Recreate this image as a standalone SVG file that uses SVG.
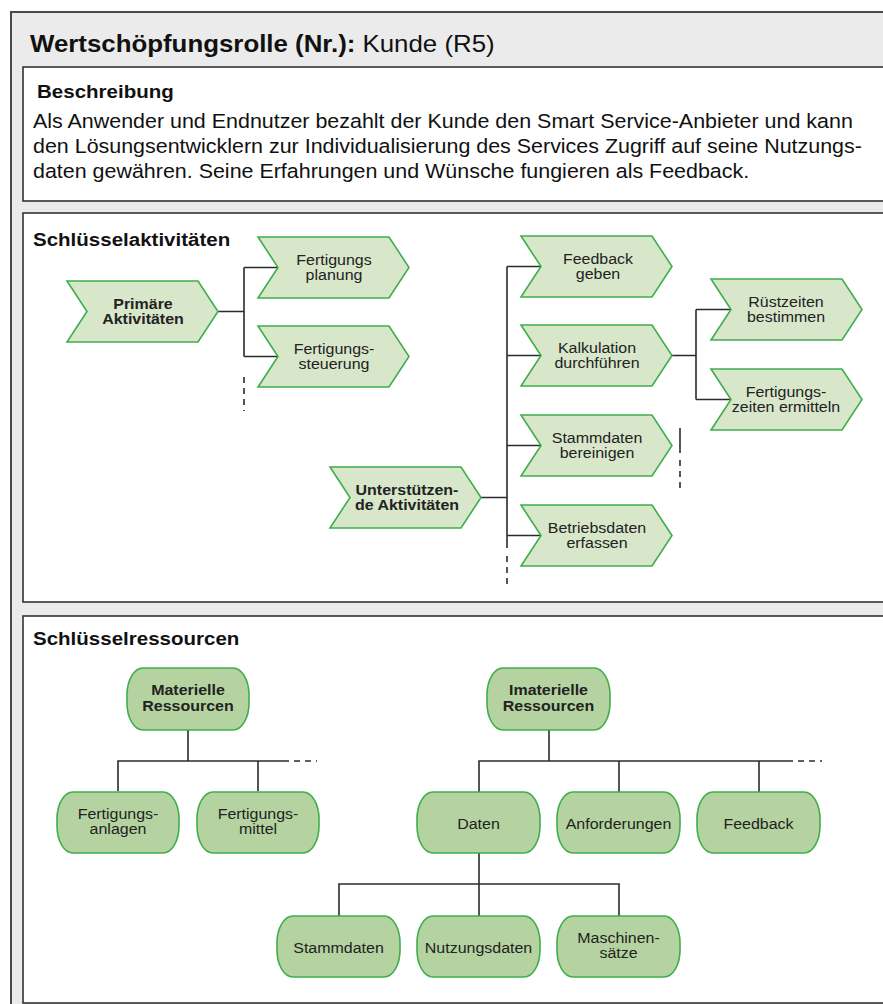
<svg xmlns="http://www.w3.org/2000/svg" xmlns:xlink="http://www.w3.org/1999/xlink" width="883" height="1004" viewBox="0 0 883 1004">
  <style>
    .frame { fill: #ebebeb; stroke: #4a4a4a; stroke-width: 2; }
    .panel { fill: #ffffff; stroke: #333333; stroke-width: 1.6; }
    .chev { fill: #d8e6ca; stroke: #3fae4c; stroke-width: 1.6; stroke-linejoin: miter; }
    .res { fill: #b5d3a0; stroke: #3fae4c; stroke-width: 1.6; }
    .wire { fill: none; stroke: #2b2b2b; stroke-width: 1.6; }
    .dash { fill: none; stroke: #2b2b2b; stroke-width: 1.6; stroke-dasharray: 6 5; }
    text { font-family: "Liberation Sans", Arial, Helvetica, sans-serif; }
    .title { font-size: 23.5px; fill: #111; }
    .head { font-size: 19px; font-weight: bold; fill: #111; }
    .body { font-size: 19.5px; fill: #111; }
    .lbl { font-size: 15px; fill: #222; text-anchor: middle; }
    .bold { font-weight: bold; }
  </style>
  <defs>
    <!-- activity chevron: notch on the left, point on the right -->
    <polygon id="chevron" points="0,0 131,0 151,30.5 131,61 0,61 20,30.5"/>
  </defs>

  <!-- outer card -->
  <rect class="frame" x="11" y="12" width="890" height="1010"/>

  <!-- heading -->
  <text class="title" transform="translate(30 52) scale(1.1 1)"><tspan font-weight="bold">Wertschöpfungsrolle (Nr.):</tspan> Kunde (R5)</text>

  <!-- description panel -->
  <g id="beschreibung">
    <rect class="panel" x="23" y="67" width="880" height="134"/>
    <text class="head" transform="translate(37 98) scale(1.08 1)">Beschreibung</text>
    <text class="body" transform="translate(33 128) scale(1.1 1)">Als Anwender und Endnutzer bezahlt der Kunde den Smart Service-Anbieter und kann</text>
    <text class="body" transform="translate(33 153) scale(1.1 1)">den Lösungsentwicklern zur Individualisierung des Services Zugriff auf seine Nutzungs-</text>
    <text class="body" transform="translate(33 178) scale(1.1 1)">daten gewähren. Seine Erfahrungen und Wünsche fungieren als Feedback.</text>
  </g>

  <!-- key activities panel -->
  <rect class="panel" x="23" y="213" width="880" height="389"/>
  <text class="head" transform="translate(33 246) scale(1.08 1)">Schlüsselaktivitäten</text>

  <!-- key resources panel -->
  <rect class="panel" x="23" y="616" width="880" height="387"/>
  <text class="head" transform="translate(33 645) scale(1.08 1)">Schlüsselressourcen</text>

  <!-- connectors -->
  <g id="connectors">
    <!-- primary activities -->
    <path class="wire" d="M218 311.5 H244 M244 267.5 V356.5 M244 267.5 H278 M244 356.5 H278"/>
    <path class="dash" d="M244 377 V411"/>
    <!-- supporting activities -->
    <path class="wire" d="M481 497.5 H507 M507 266.5 V548 M507 266.5 H541 M507 355.5 H541 M507 445.5 H541 M507 535.5 H541"/>
    <path class="dash" d="M507 556 V585"/>
    <!-- calculation sub-steps -->
    <path class="wire" d="M672 355.5 H696 M696 309.5 V399.5 M696 309.5 H731 M696 399.5 H731"/>
    <path class="wire" d="M680 428 V453"/>
    <path class="dash" d="M680 460 V489"/>
    <!-- tangible resources -->
    <path class="wire" d="M188 730 V761 M118 791 V761 H283 M258 761 V791"/>
    <path class="dash" d="M283 761 H317"/>
    <!-- intangible resources -->
    <path class="wire" d="M549 730 V761 M479 792 V761 H787 M619 761 V792 M759 761 V792"/>
    <path class="dash" d="M787 761 H822"/>
    <!-- data breakdown -->
    <path class="wire" d="M479 853 V916 M339 916 V884 H619 V916"/>
  </g>

  <!-- activity nodes -->
  <g id="primaere-aktivitaeten">
    <use xlink:href="#chevron" class="chev" x="67" y="281"/>
    <text class="lbl bold" transform="translate(143 308.5) scale(1.065 1)"><tspan x="0">Primäre</tspan><tspan x="0" dy="16">Aktivitäten</tspan></text>
  </g>
  <g id="fertigungsplanung">
    <use xlink:href="#chevron" class="chev" x="258" y="237"/>
    <text class="lbl" transform="translate(334 264.5) scale(1.065 1)"><tspan x="0">Fertigungs</tspan><tspan x="0" dy="16">planung</tspan></text>
  </g>
  <g id="fertigungssteuerung">
    <use xlink:href="#chevron" class="chev" x="258" y="326"/>
    <text class="lbl" transform="translate(334 353.5) scale(1.065 1)"><tspan x="0">Fertigungs-</tspan><tspan x="0" dy="16">steuerung</tspan></text>
  </g>
  <g id="unterstuetzende-aktivitaeten">
    <use xlink:href="#chevron" class="chev" x="330" y="467"/>
    <text class="lbl bold" transform="translate(407 494.5) scale(1.065 1)"><tspan x="0">Unterstützen-</tspan><tspan x="0" dy="16">de Aktivitäten</tspan></text>
  </g>
  <g id="feedback-geben">
    <use xlink:href="#chevron" class="chev" x="521" y="236"/>
    <text class="lbl" transform="translate(598 263.5) scale(1.065 1)"><tspan x="0">Feedback</tspan><tspan x="0" dy="16">geben</tspan></text>
  </g>
  <g id="kalkulation">
    <use xlink:href="#chevron" class="chev" x="521" y="325"/>
    <text class="lbl" transform="translate(597 352.5) scale(1.065 1)"><tspan x="0">Kalkulation</tspan><tspan x="0" dy="16">durchführen</tspan></text>
  </g>
  <g id="stammdaten-bereinigen">
    <use xlink:href="#chevron" class="chev" x="521" y="415"/>
    <text class="lbl" transform="translate(597 442.5) scale(1.065 1)"><tspan x="0">Stammdaten</tspan><tspan x="0" dy="16">bereinigen</tspan></text>
  </g>
  <g id="betriebsdaten-erfassen">
    <use xlink:href="#chevron" class="chev" x="521" y="505"/>
    <text class="lbl" transform="translate(597 532.5) scale(1.065 1)"><tspan x="0">Betriebsdaten</tspan><tspan x="0" dy="16">erfassen</tspan></text>
  </g>
  <g id="ruestzeiten">
    <use xlink:href="#chevron" class="chev" x="711" y="279"/>
    <text class="lbl" transform="translate(786 306.5) scale(1.065 1)"><tspan x="0">Rüstzeiten</tspan><tspan x="0" dy="16">bestimmen</tspan></text>
  </g>
  <g id="fertigungszeiten">
    <use xlink:href="#chevron" class="chev" x="711" y="369"/>
    <text class="lbl" transform="translate(786 396.5) scale(1.065 1)"><tspan x="0">Fertigungs-</tspan><tspan x="0" dy="16">zeiten ermitteln</tspan></text>
  </g>

  <!-- resource nodes -->
  <g id="materielle-ressourcen">
    <rect class="res" x="127" y="668" width="122" height="62" rx="16" ry="27"/>
    <text class="lbl bold" transform="translate(188 695) scale(1.065 1)"><tspan x="0">Materielle</tspan><tspan x="0" dy="16">Ressourcen</tspan></text>
  </g>
  <g id="imaterielle-ressourcen">
    <rect class="res" x="487" y="668" width="123" height="62" rx="16" ry="27"/>
    <text class="lbl bold" transform="translate(548.5 695) scale(1.065 1)"><tspan x="0">Imaterielle</tspan><tspan x="0" dy="16">Ressourcen</tspan></text>
  </g>
  <g id="fertigungsanlagen">
    <rect class="res" x="57" y="792" width="122" height="61" rx="16" ry="27"/>
    <text class="lbl" transform="translate(118 818.5) scale(1.065 1)"><tspan x="0">Fertigungs-</tspan><tspan x="0" dy="16">anlagen</tspan></text>
  </g>
  <g id="fertigungsmittel">
    <rect class="res" x="197" y="792" width="122" height="61" rx="16" ry="27"/>
    <text class="lbl" transform="translate(258 818.5) scale(1.065 1)"><tspan x="0">Fertigungs-</tspan><tspan x="0" dy="16">mittel</tspan></text>
  </g>
  <g id="daten">
    <rect class="res" x="417" y="792" width="123" height="61" rx="16" ry="27"/>
    <text class="lbl" transform="translate(478.5 828.5) scale(1.065 1)">Daten</text>
  </g>
  <g id="anforderungen">
    <rect class="res" x="557" y="792" width="123" height="61" rx="16" ry="27"/>
    <text class="lbl" transform="translate(618.5 828.5) scale(1.065 1)">Anforderungen</text>
  </g>
  <g id="feedback">
    <rect class="res" x="697" y="792" width="123" height="61" rx="16" ry="27"/>
    <text class="lbl" transform="translate(758.5 828.5) scale(1.065 1)">Feedback</text>
  </g>
  <g id="stammdaten">
    <rect class="res" x="277" y="916" width="123" height="61" rx="16" ry="27"/>
    <text class="lbl" transform="translate(338.5 952.5) scale(1.065 1)">Stammdaten</text>
  </g>
  <g id="nutzungsdaten">
    <rect class="res" x="417" y="916" width="123" height="61" rx="16" ry="27"/>
    <text class="lbl" transform="translate(478.5 952.5) scale(1.065 1)">Nutzungsdaten</text>
  </g>
  <g id="maschinensaetze">
    <rect class="res" x="557" y="916" width="123" height="61" rx="16" ry="27"/>
    <text class="lbl" transform="translate(618.5 942.5) scale(1.065 1)"><tspan x="0">Maschinen-</tspan><tspan x="0" dy="16">sätze</tspan></text>
  </g>
</svg>
